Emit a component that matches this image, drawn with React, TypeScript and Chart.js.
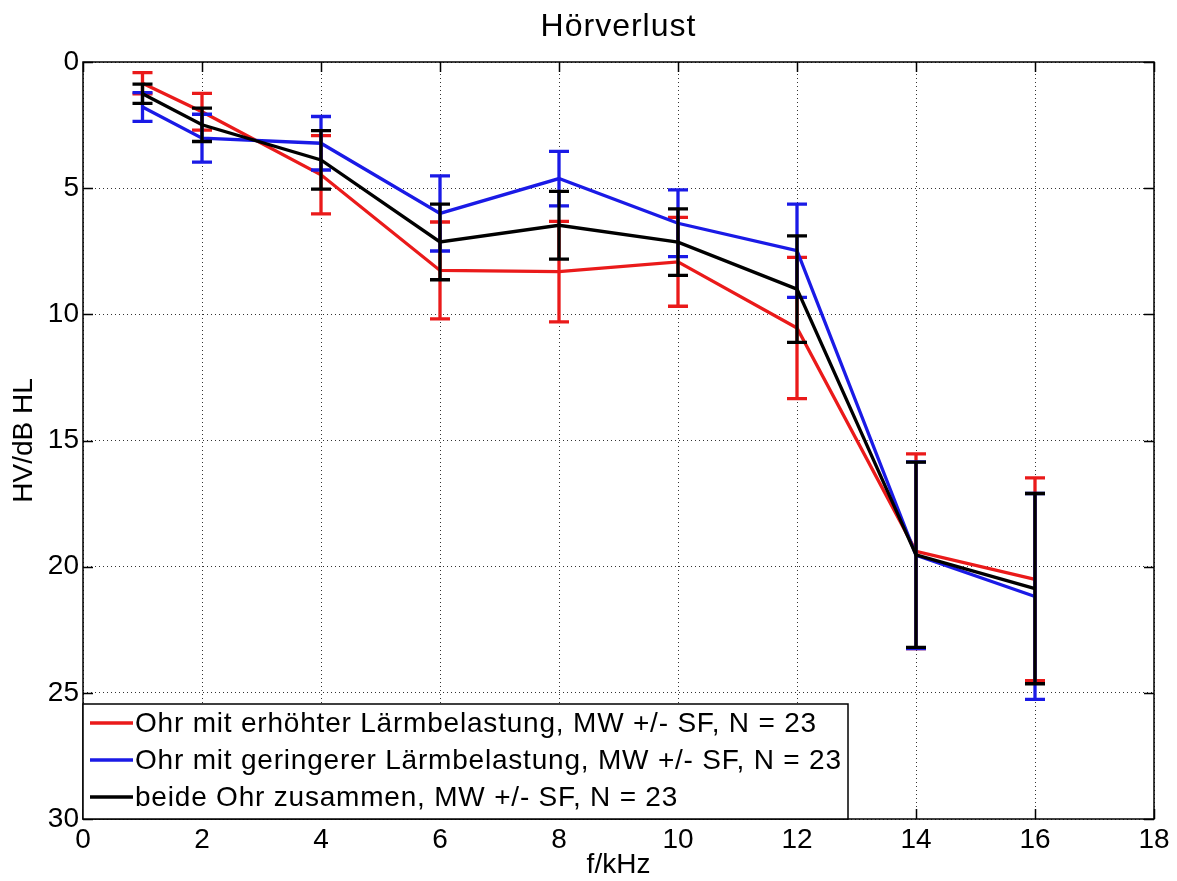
import React, { useEffect, useRef } from 'react';
import { Chart, registerables } from 'chart.js';

Chart.register(...registerables);

// ---- data ----
const freqs = [1, 2, 4, 6, 8, 10, 12, 14, 16];

const redMean = [0.84, 1.97, 4.47, 8.26, 8.31, 7.92, 10.54, 19.39, 20.5];
const redErr = [0.42, 0.73, 1.55, 1.92, 1.99, 1.76, 2.8, 3.86, 4.02];

const blueMean = [1.78, 3.02, 3.22, 6.0, 4.62, 6.39, 7.48, 19.55, 21.18];
const blueErr = [0.57, 0.95, 1.06, 1.49, 1.08, 1.32, 1.85, 3.7, 4.08];

const blackMean = [1.26, 2.49, 3.88, 7.13, 6.47, 7.14, 9.0, 19.53, 20.87];
const blackErr = [0.38, 0.66, 1.16, 1.5, 1.34, 1.32, 2.11, 3.67, 3.77];

const seriesLabels = [
  'Ohr mit erhöhter Lärmbelastung, MW +/- SF, N = 23',
  'Ohr mit geringerer Lärmbelastung, MW +/- SF, N = 23',
  'beide Ohr zusammen, MW +/- SF, N = 23',
];

const xTicks = [0, 2, 4, 6, 8, 10, 12, 14, 16, 18];
const yTicks = [0, 5, 10, 15, 20, 25, 30];

const titleText = 'Hörverlust';
const xTitle = 'f/kHz';
const yTitle = 'HV/dB HL';

const RED = '#ea1a1a';
const BLUE = '#1a1ae6';
const BLACK = '#000000';
const FONT = "'Liberation Sans', Arial, Helvetica, sans-serif";

const makeDataset = (label: string, color: string, mean: number[], err: number[], order: number) => ({
  label,
  data: freqs.map((f, i) => ({ x: f, y: mean[i] })),
  errors: err,
  borderColor: color,
  backgroundColor: color,
  borderWidth: 3.3,
  pointRadius: 0,
  tension: 0,
  fill: false,
  order,
});

const matlabPlugin = {
  id: 'matlabStyle',
  beforeDraw(chart: any) {
    const ctx = chart.ctx;
    ctx.save();
    ctx.fillStyle = '#ffffff';
    ctx.fillRect(0, 0, chart.width, chart.height);
    ctx.restore();
  },
  afterDatasetDraw(chart: any, args: any) {
    const ds = chart.data.datasets[args.index];
    const xs = chart.scales.x;
    const ys = chart.scales.y;
    const ctx = chart.ctx;
    ctx.save();
    ctx.strokeStyle = ds.borderColor;
    ctx.lineWidth = 3.3;
    ctx.lineCap = 'butt';
    ds.data.forEach((p: any, i: number) => {
      const e = ds.errors[i];
      const px = xs.getPixelForValue(p.x);
      const y1 = ys.getPixelForValue(p.y - e);
      const y2 = ys.getPixelForValue(p.y + e);
      ctx.beginPath();
      ctx.moveTo(px, y1);
      ctx.lineTo(px, y2);
      ctx.moveTo(px - 10, y1);
      ctx.lineTo(px + 10, y1);
      ctx.moveTo(px - 10, y2);
      ctx.lineTo(px + 10, y2);
      ctx.stroke();
    });
    ctx.restore();
  },
  afterDraw(chart: any) {
    const ctx = chart.ctx;
    const { left, right, top, bottom } = chart.chartArea;
    const xs = chart.scales.x;
    const ys = chart.scales.y;
    ctx.save();
    // inward ticks
    ctx.strokeStyle = '#000';
    ctx.lineWidth = 1.5;
    ctx.beginPath();
    xTicks.forEach((v) => {
      const px = Math.round(xs.getPixelForValue(v)) + 0.5;
      ctx.moveTo(px, bottom);
      ctx.lineTo(px, bottom - 10);
      ctx.moveTo(px, top);
      ctx.lineTo(px, top + 10);
    });
    yTicks.forEach((v) => {
      const py = Math.round(ys.getPixelForValue(v)) + 0.5;
      ctx.moveTo(left, py);
      ctx.lineTo(left + 10, py);
      ctx.moveTo(right, py);
      ctx.lineTo(right - 10, py);
    });
    ctx.stroke();
    // frame box
    ctx.lineWidth = 1.5;
    ctx.strokeRect(left, top, right - left, bottom - top);

    // title
    ctx.fillStyle = '#000';
    ctx.font = `32px ${FONT}`;
    (ctx as any).letterSpacing = '1px';
    ctx.textAlign = 'center';
    ctx.textBaseline = 'middle';
    ctx.fillText(titleText, (left + right) / 2, 27);

    // legend
    const lx0 = left;
    const lx1 = 848;
    const ly0 = 704;
    const ly1 = bottom;
    ctx.fillStyle = '#fff';
    ctx.fillRect(lx0, ly0, lx1 - lx0, ly1 - ly0);
    ctx.strokeStyle = '#000';
    ctx.lineWidth = 1.5;
    ctx.strokeRect(lx0, ly0, lx1 - lx0, ly1 - ly0);
    const rowY = [723, 760, 797];
    const colors = [RED, BLUE, BLACK];
    ctx.font = `28px ${FONT}`;
    (ctx as any).letterSpacing = '0.8px';
    ctx.textAlign = 'left';
    ctx.textBaseline = 'middle';
    seriesLabels.forEach((lab, i) => {
      ctx.strokeStyle = colors[i];
      ctx.lineWidth = 3.3;
      ctx.beginPath();
      ctx.moveTo(lx0 + 7, rowY[i]);
      ctx.lineTo(lx0 + 50, rowY[i]);
      ctx.stroke();
      ctx.fillStyle = '#000';
      ctx.fillText(lab, lx0 + 52, rowY[i] + 1);
    });
    ctx.restore();
  },
};

export default function App() {
  const ref = useRef<HTMLCanvasElement>(null);

  useEffect(() => {
    const canvas = ref.current;
    if (!canvas) return;
    Chart.defaults.font.family = FONT;
    const chart = new Chart(canvas, {
      type: 'line',
      data: {
        datasets: [
          makeDataset(seriesLabels[0], RED, redMean, redErr, 3),
          makeDataset(seriesLabels[1], BLUE, blueMean, blueErr, 2),
          makeDataset(seriesLabels[2], BLACK, blackMean, blackErr, 1),
        ] as any,
      },
      options: {
        responsive: false,
        animation: false,
        devicePixelRatio: 1,
        layout: { padding: { left: 0, top: 62, right: 23, bottom: 0 } },
        plugins: {
          legend: { display: false },
          title: { display: false },
          tooltip: { enabled: false },
        },
        scales: {
          x: {
            type: 'linear',
            min: 0,
            max: 18,
            afterBuildTicks: (s: any) => {
              s.ticks = xTicks.map((v) => ({ value: v }));
            },
            afterFit: (s: any) => {
              s.height = 62;
            },
            grid: { color: '#333', lineWidth: 1, drawTicks: false },
            border: { display: false, dash: [1, 3] },
            ticks: {
              padding: 4,
              color: '#000',
              font: { size: 28, family: FONT },
              maxRotation: 0,
              autoSkip: false,
            },
            title: {
              display: true,
              text: xTitle,
              color: '#000',
              font: { size: 28, family: FONT, lineHeight: 1 },
              padding: { top: 0, bottom: 2 },
            },
          },
          y: {
            type: 'linear',
            min: 0,
            max: 30,
            reverse: true,
            afterBuildTicks: (s: any) => {
              s.ticks = yTicks.map((v) => ({ value: v }));
            },
            afterFit: (s: any) => {
              s.width = 83;
            },
            grid: { color: '#333', lineWidth: 1, drawTicks: false },
            border: { display: false, dash: [1, 3] },
            ticks: {
              padding: 4,
              color: '#000',
              font: { size: 28, family: FONT },
              autoSkip: false,
            },
            title: {
              display: true,
              text: yTitle,
              color: '#000',
              font: { size: 28, family: FONT, lineHeight: 1.2 },
              padding: { top: 7, bottom: 0 },
            },
          },
        },
      } as any,
      plugins: [matlabPlugin],
    });
    return () => chart.destroy();
  }, []);

  return (
    <div style={{ position: 'absolute', left: 0, top: 0, width: 1177, height: 881, background: '#fff' }}>
      <canvas ref={ref} width={1177} height={881} style={{ display: 'block', width: 1177, height: 881 }} />
    </div>
  );
}
